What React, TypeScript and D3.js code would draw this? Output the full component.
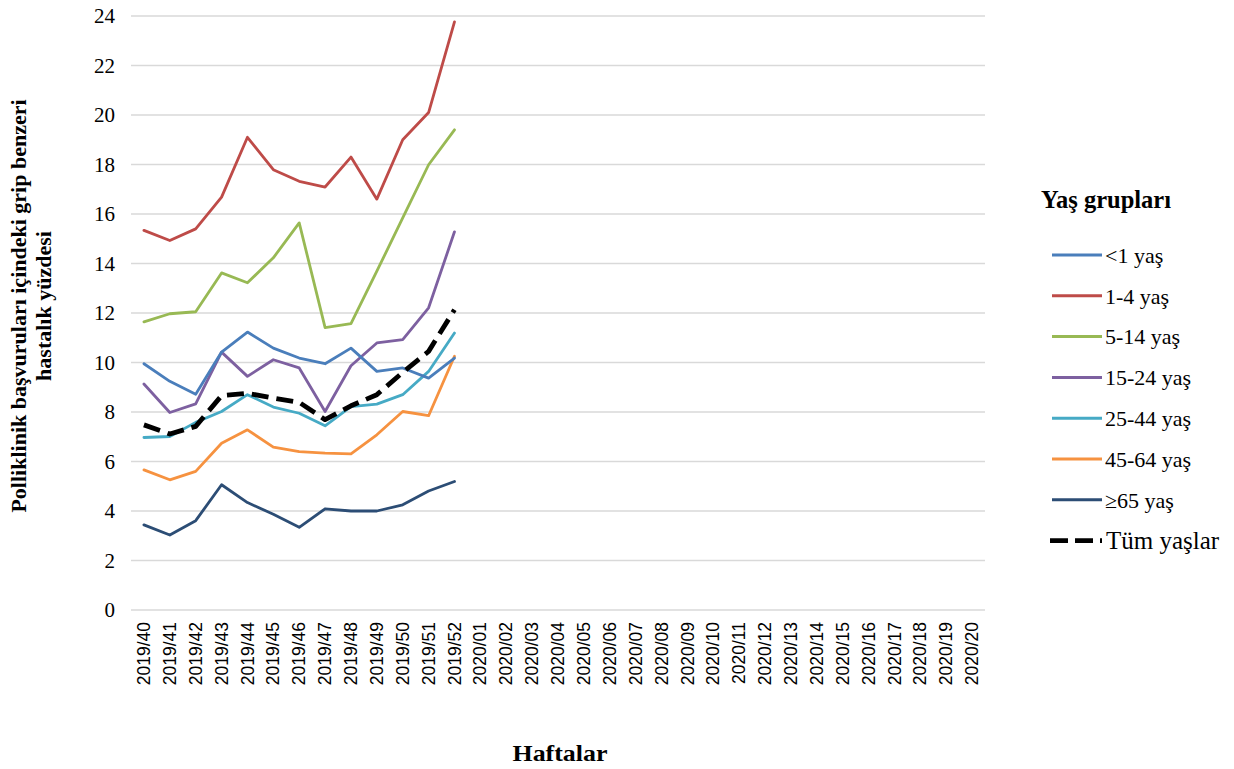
import React from "react";
import * as d3 from "d3";

const weeks: string[] = [
  "2019/40","2019/41","2019/42","2019/43","2019/44","2019/45","2019/46","2019/47","2019/48","2019/49","2019/50","2019/51","2019/52",
  "2020/01","2020/02","2020/03","2020/04","2020/05","2020/06","2020/07","2020/08","2020/09","2020/10","2020/11","2020/12",
  "2020/13","2020/14","2020/15","2020/16","2020/17","2020/18","2020/19","2020/20",
];
const yTicks: number[] = [0, 2, 4, 6, 8, 10, 12, 14, 16, 18, 20, 22, 24];

const under1: number[] = [9.95, 9.24, 8.72, 10.42, 11.23, 10.58, 10.18, 9.95, 10.58, 9.64, 9.78, 9.37, 10.18];
const age1to4: number[] = [15.34, 14.93, 15.4, 16.68, 19.1, 17.79, 17.32, 17.09, 18.3, 16.6, 19.0, 20.1, 23.76];
const age5to14: number[] = [11.64, 11.97, 12.05, 13.62, 13.22, 14.23, 15.64, 11.41, 11.57, 13.69, 15.84, 17.99, 19.4];
const age15to24: number[] = [9.13, 7.98, 8.33, 10.42, 9.44, 10.11, 9.78, 8.02, 9.87, 10.79, 10.92, 12.21, 15.28];
const age25to44: number[] = [6.97, 7.01, 7.58, 8.02, 8.7, 8.2, 7.95, 7.44, 8.22, 8.32, 8.7, 9.64, 11.19];
const age45to64: number[] = [5.66, 5.26, 5.6, 6.74, 7.28, 6.58, 6.4, 6.34, 6.31, 7.08, 8.02, 7.85, 10.25];
const age65plus: number[] = [3.44, 3.03, 3.61, 5.06, 4.34, 3.87, 3.34, 4.09, 4.0, 4.0, 4.25, 4.81, 5.19];
const allAges: number[] = [7.48, 7.11, 7.42, 8.66, 8.76, 8.56, 8.39, 7.69, 8.25, 8.7, 9.6, 10.45, 12.13];

const seriesNames: string[] = ["<1 yaş", "1-4 yaş", "5-14 yaş", "15-24 yaş", "25-44 yaş", "45-64 yaş", "≥65 yaş", "Tüm yaşlar"];
const seriesColors: string[] = ["#4A7EBB", "#BE4B48", "#98B954", "#7D60A0", "#46AAC5", "#F69240", "#2C4D75", "#000000"];
const seriesValues: number[][] = [under1, age1to4, age5to14, age15to24, age25to44, age45to64, age65plus, allAges];

export default function App() {
  const W = 1234, H = 769;
  const left = 131, right = 985, top = 16, bottom = 610;
  const x = d3.scaleBand<string>().domain(weeks).range([left, right]);
  const y = d3.scaleLinear().domain([0, 24]).range([bottom, top]);
  const cx = (w: string) => (x(w) as number) + x.bandwidth() / 2;

  const line = d3.line<number>()
    .x((_, i) => cx(weeks[i]))
    .y((v) => y(v));

  const serif = "Liberation Serif";
  const sans = "Liberation Sans";

  const order = [6, 5, 4, 3, 2, 1, 0, 7];

  return (
    <svg width={W} height={H} style={{ position: "absolute", left: 0, top: 0, background: "#fff" }}>
      <rect x={0} y={0} width={W} height={H} fill="#fff" />
      {yTicks.map((t) => (
        <g key={t}>
          <line x1={left} x2={right} y1={y(t)} y2={y(t)} stroke="#D9D9D9" strokeWidth={1.3} />
          <text x={115} y={y(t)} dy="0.35em" textAnchor="end" fontFamily={serif} fontSize={21} fill="#000">
            {t}
          </text>
        </g>
      ))}
      {weeks.map((w) => (
        <text key={w} transform={`translate(${cx(w)},622) rotate(-90)`} dy="0.35em" textAnchor="end"
          fontFamily={sans} fontSize={17.5} fill="#000">
          {w}
        </text>
      ))}
      {order.map((si) => (
        <path key={si} d={line(seriesValues[si]) || ""} fill="none" stroke={seriesColors[si]}
          strokeWidth={si === 7 ? 4.8 : 2.8} strokeDasharray={si === 7 ? "17 8" : undefined}
          strokeLinejoin="round" strokeLinecap={si === 7 ? "butt" : "round"} />
      ))}
      <text transform="translate(26,306) rotate(-90)" textAnchor="middle" fontFamily={serif} fontWeight="bold" fontSize={22}>
        Polliklinik başvuruları içindeki grip benzeri
      </text>
      <text transform="translate(51,306) rotate(-90)" textAnchor="middle" fontFamily={serif} fontWeight="bold" fontSize={22}>
        hastalık yüzdesi
      </text>
      <text x={560} y={761} textAnchor="middle" fontFamily={serif} fontWeight="bold" fontSize={24}
        textLength={95} lengthAdjust="spacingAndGlyphs">
        Haftalar
      </text>
      <text x={1041} y={208} fontFamily={serif} fontWeight="bold" fontSize={24.5}>
        Yaş grupları
      </text>
      {seriesNames.map((n, i) => {
        const ly = 255 + i * 40.8;
        return (
          <g key={n}>
            {i === 7 ? (
              <line x1={1050} x2={1102} y1={ly} y2={ly} stroke="#000" strokeWidth={4.8} strokeDasharray="18 7" />
            ) : (
              <line x1={1052} x2={1102} y1={ly} y2={ly} stroke={seriesColors[i]} strokeWidth={3} />
            )}
            <text x={i === 7 ? 1106 : 1105} y={ly} dy="0.35em" fontFamily={serif} fontSize={i === 7 ? 25 : 22}>
              {n}
            </text>
          </g>
        );
      })}
    </svg>
  );
}
